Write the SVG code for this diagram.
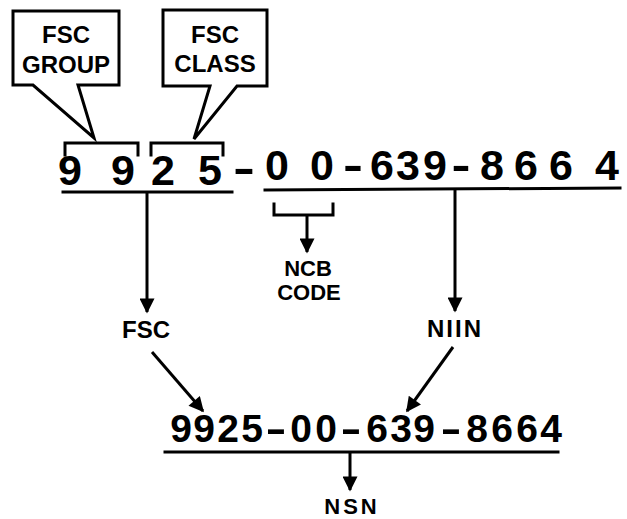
<svg xmlns="http://www.w3.org/2000/svg" width="627" height="519" viewBox="0 0 627 519">
<style>
  .ln { stroke:#000; stroke-width:3; fill:none; stroke-linecap:square; stroke-linejoin:miter; }
  .arr { stroke:#000; stroke-width:3; fill:none; marker-end:url(#ah); }
  .t { font-family:"Liberation Sans", Arial, sans-serif; font-weight:bold; fill:#000; text-anchor:middle; }
  .lbl { font-size:24px; }
  .big { font-size:43px; }
  .mid { font-size:39px; }
</style>
<defs>
  <marker id="ah" viewBox="0 0 10 10" refX="9" refY="5" markerUnits="userSpaceOnUse" markerWidth="17" markerHeight="15" orient="auto">
    <path d="M0,0 L10,5 L0,10 z" fill="#000"/>
  </marker>
</defs>
<rect width="627" height="519" fill="#fff"/>

<g id="fsc-group-callout">
  <path class="ln" d="M13,11 H119 V85 H78 L94,138 L33,85 H13 Z"/>
  <text class="t lbl" x="66" y="43">FSC</text>
  <text class="t lbl" x="66" y="73">GROUP</text>
</g>
<g id="fsc-class-callout">
  <path class="ln" d="M163,10 H267 V86 H237 L194,139 L210,86 H163 Z"/>
  <text class="t lbl" x="215" y="43">FSC</text>
  <text class="t lbl" x="215" y="72">CLASS</text>
</g>

<g id="source-number">
  <path class="ln" d="M65,155 V143 H138 V155"/>
  <path class="ln" d="M151,155 V143 H223 V155"/>
  <text class="t big" y="185"><tspan x="76">9</tspan> <tspan x="123">9</tspan></text>
  <text class="t big" y="185"><tspan x="169">2</tspan> <tspan x="210">5</tspan></text>
  <text class="t big" x="244" y="183" textLength="22" lengthAdjust="spacingAndGlyphs">-</text>
  <text class="t big" y="180"><tspan x="283">0</tspan> <tspan x="322">0</tspan><tspan x="353" textLength="20" lengthAdjust="spacingAndGlyphs">-</tspan><tspan x="382">6</tspan><tspan x="408">3</tspan><tspan x="435">9</tspan><tspan x="467" textLength="19" lengthAdjust="spacingAndGlyphs">-</tspan> <tspan x="498">8</tspan> <tspan x="532">6</tspan> <tspan x="567">6</tspan> <tspan x="607">4</tspan></text>
</g>

<g id="ncb-bracket">
  <path class="ln" d="M274,204 V215 H333 V204"/>
</g>
<g id="ncb-code">
  <text class="t" style="font-size:22px" x="308" y="276">NCB</text>
  <text class="t" style="font-size:22px" x="309" y="300">CODE</text>
</g>
<g id="fsc">
  <text class="t lbl" x="146" y="338">FSC</text>
</g>
<g id="niin">
  <text class="t lbl" x="455" y="337" letter-spacing="2">NIIN</text>
</g>
<g id="nsn-number">
  <text class="t mid" y="442"><tspan x="181">9</tspan><tspan x="204">9</tspan><tspan x="228">2</tspan><tspan x="252">5</tspan><tspan x="276" textLength="21" lengthAdjust="spacingAndGlyphs">-</tspan><tspan x="301">0</tspan><tspan x="326">0</tspan><tspan x="351" textLength="21" lengthAdjust="spacingAndGlyphs">-</tspan><tspan x="377">6</tspan><tspan x="401">3</tspan><tspan x="424">9</tspan><tspan x="451" textLength="21" lengthAdjust="spacingAndGlyphs">-</tspan><tspan x="477">8</tspan><tspan x="502">6</tspan><tspan x="527">6</tspan><tspan x="551">4</tspan></text>
</g>
<g id="nsn">
  <text class="t" style="font-size:22px" x="352" y="514" letter-spacing="3">NSN</text>
</g>

<g id="connectors">
  <line class="ln" x1="63" y1="192" x2="232" y2="192"/>
  <line class="ln" x1="265" y1="190" x2="620" y2="188"/>
  <line class="ln" x1="165" y1="452" x2="558" y2="452"/>
  <line class="arr" x1="147" y1="192" x2="147" y2="312"/>
  <line class="arr" x1="307" y1="215" x2="307" y2="252"/>
  <line class="arr" x1="455" y1="189" x2="455" y2="311"/>
  <line class="arr" x1="152" y1="352" x2="203" y2="411"/>
  <line class="arr" x1="453" y1="347" x2="407" y2="411"/>
  <line class="arr" x1="350" y1="452" x2="350" y2="490"/>
</g>
</svg>
